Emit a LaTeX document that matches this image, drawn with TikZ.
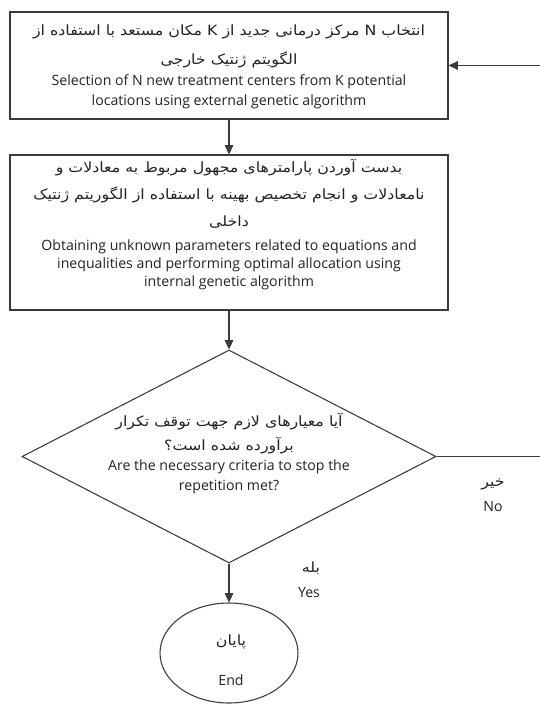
\documentclass[tikz,border=0pt]{standalone}
\usepackage{fontspec}
\setmainfont{Open Sans}
\newfontfamily\fa[Script=Arabic]{DejaVu Sans}
\TeXXeTstate=1
\usetikzlibrary{shapes.geometric,arrows.meta}
\definecolor{ln}{HTML}{3A3A3A}
\definecolor{tx}{HTML}{222222}
\newcommand{\fatext}[1]{\scalebox{1.12}[1]{\fa\fontsize{10.6}{12}\selectfont\beginR #1\endR}}
\tikzset{
  box/.style={draw=ln,line width=0.8pt,rectangle,inner sep=0pt,minimum width=328.5pt},
  en/.style={text=tx,font=\fontsize{10.6}{12}\selectfont,inner sep=0pt},
  pe/.style={text=tx,inner sep=0pt},
  arr/.style={draw=ln,line width=0.8pt,-{Triangle[length=7pt,width=6.5pt]}},
  ln/.style={draw=ln,line width=0.8pt}
}
\begin{document}
\begin{tikzpicture}[x=0.75pt,y=-0.75pt]
\useasboundingbox (0,0) rectangle (539,705);
% shapes
\node[box,minimum height=80.25pt] (b1) at (229,65.5) {};
\node[box,minimum height=116.25pt] (b2) at (229,232.5) {};
\node[draw=ln,line width=0.8pt,diamond,inner sep=0pt,minimum width=310.5pt,minimum height=159.75pt] (dia) at (229,456.5) {};
\node[draw=ln,line width=0.8pt,ellipse,inner sep=0pt,minimum width=103.5pt,minimum height=75pt] (ell) at (229,653) {};
% box 1 text
\node[pe] (t1a) at (229,32) {\fatext{انتخاب N مرکز درمانی جدید از K مکان مستعد با استفاده از}};
\node[pe] (t1b) at (229,60) {\fatext{الگویتم ژنتیک خارجی}};
\node[en] (t1c) at (229,82) {Selection of N new treatment centers from K potential};
\node[en] (t1d) at (229,102) {locations using external genetic algorithm};
% box 2 text
\node[pe] (t2a) at (229,168) {\fatext{بدست آوردن پارامترهای مجهول مربوط به معادلات و}};
\node[pe] (t2b) at (229,195) {\fatext{نامعادلات و انجام تخصیص بهینه با استفاده از الگوریتم ژنتیک}};
\node[pe] (t2c) at (229,222) {\fatext{داخلی}};
\node[en] (t2d) at (229,247) {Obtaining unknown parameters related to equations and};
\node[en] (t2e) at (229,265) {inequalities and performing optimal allocation using};
\node[en] (t2f) at (229,283) {internal genetic algorithm};
% diamond text
\node[pe] (t3a) at (229,422) {\fatext{آیا معیارهای لازم جهت توقف تکرار}};
\node[pe] (t3b) at (229,446) {\fatext{برآورده شده است؟}};
\node[en] (t3c) at (229,467) {Are the necessary criteria to stop the};
\node[en] (t3d) at (229,487) {repetition met?};
% labels
\node[pe] (no1) at (493,484) {\fatext{خیر}};
\node[en] (no2) at (493,507) {No};
\node[pe] (ye1) at (311,568) {\fatext{بله}};
\node[en] (ye2) at (309,593) {Yes};
\node[pe] (en1) at (231,642) {\fatext{پایان}};
\node[en] (en2) at (231,680) {End};
% connectors
\draw[arr] (b1.south) -- (b2.north);
\draw[arr] (b2.south) -- (dia.north);
\draw[arr] (dia.south) -- (ell.north);
\coordinate (fb) at (560,456.5);
\draw[arr] (dia.east) -- (fb) |- (b1.east);
\end{tikzpicture}
\end{document}
